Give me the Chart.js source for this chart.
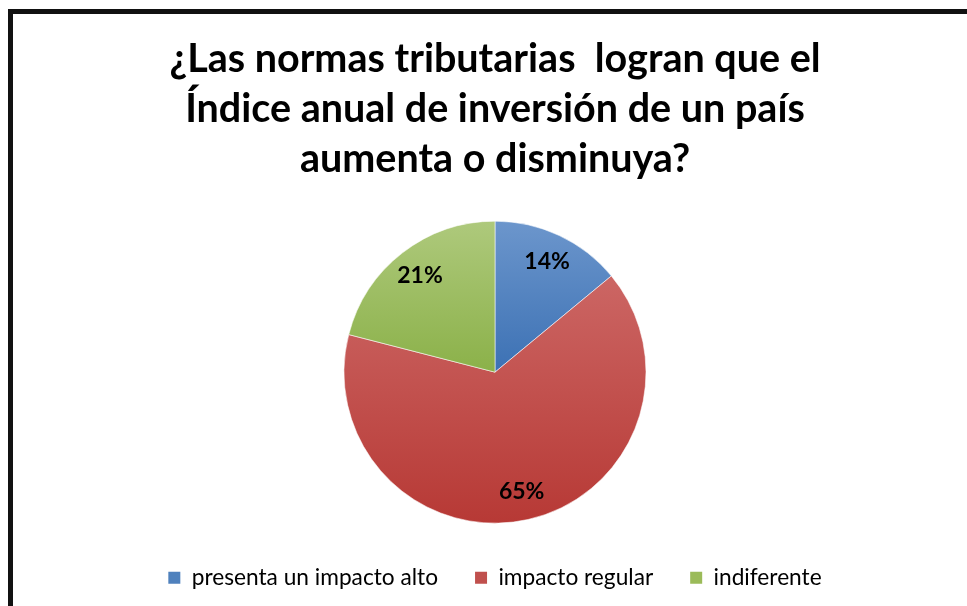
<!DOCTYPE html>
<html>
<head>
<meta charset="utf-8">
<script src="https://cdn.jsdelivr.net/npm/chart.js@4/dist/chart.umd.min.js"></script>
<style>
  html, body { margin: 0; padding: 0; background: #fff; overflow: hidden; }
  #frame { position: absolute; left: 8px; top: 9px; width: 2000px; height: 2000px; border: 5px solid #111; }
  #wrap { position: absolute; left: 0; top: 0; }
</style>
</head>
<body>
<div id="frame"></div>
<div id="wrap"><canvas id="pieChart" width="967" height="599"></canvas></div>
<script>
//
// Pie chart - normas tributarias vs indice de inversion
//

var categories = ['presenta un impacto alto', 'impacto regular', 'indiferente'];
var values = [14, 65, 21];
var valueLabels = ['14%', '65%', '21%'];
var titleLines = ['¿Las normas tributarias  logran que el', 'Índice anual de inversión de un país', 'aumenta o disminuya?'];

// light (top) and dark (bottom) tone of each slice, plus flat legend colour
var lightColors = ['#6c96cc', '#cc6664', '#aec97c'];
var darkColors = ['#3c71b4', '#b73935', '#8bb149'];
var legendColors = ['#4f81bd', '#c0504d', '#9bbb59'];

const PIE_RADIUS = 151;

//
// Vertical gradient fitted to each slice's own bounding box
//
function sliceGradient(context) {
  var chart = context.chart;
  var i = context.dataIndex;
  var area = chart.chartArea;
  if (!area || i === undefined) return legendColors[i || 0];

  var cx = (area.left + area.right) / 2;
  var cy = (area.top + area.bottom) / 2;
  var total = values.reduce((a, b) => a + b, 0);
  var before = 0;
  for (var k = 0; k < i; k++) before += values[k];
  var a0 = -Math.PI / 2 + before / total * Math.PI * 2;
  var a1 = a0 + values[i] / total * Math.PI * 2;

  var minY = cy, maxY = cy;
  for (var s = 0; s <= 60; s++) {
    var a = a0 + (a1 - a0) * s / 60;
    var y = cy + Math.sin(a) * PIE_RADIUS;
    if (y < minY) minY = y;
    if (y > maxY) maxY = y;
  }
  var g = chart.ctx.createLinearGradient(0, minY, 0, maxY);
  g.addColorStop(0, lightColors[i]);
  g.addColorStop(1, darkColors[i]);
  return g;
}

// Percent labels drawn inside the slices
var sliceLabels = {
  id: 'sliceLabels',
  afterDatasetsDraw(chart) {
    var ctx = chart.ctx;
    var meta = chart.getDatasetMeta(0);
    ctx.save();
    ctx.font = 'bold 23px Lato';
    ctx.fillStyle = '#000';
    ctx.textAlign = 'center';
    ctx.textBaseline = 'middle';
    meta.data.forEach((arc, i) => {
      var p = arc.getProps(['x', 'y', 'startAngle', 'endAngle', 'outerRadius'], true);
      var mid = (p.startAngle + p.endAngle) / 2;
      var r = p.outerRadius * 0.81;
      ctx.fillText(valueLabels[i], p.x + Math.cos(mid) * r, p.y + Math.sin(mid) * r);
    });
    ctx.restore();
  }
};

var pieChart = new Chart(document.getElementById('pieChart'), {
  type: 'pie',
  data: {
    labels: categories,
    datasets: [{
      data: values,
      backgroundColor: sliceGradient,
      borderColor: 'rgba(255,255,255,0.55)',
      borderWidth: 1,
      radius: PIE_RADIUS
    }]
  },
  options: {
    responsive: false,
    animation: false,
    layout: { padding: { left: 23, right: 0, top: 0, bottom: 0 } },
    plugins: {
      tooltip: { enabled: false },
      title: {
        display: true,
        text: titleLines,
        color: '#000',
        font: { family: 'Lato', size: 39.5, weight: 'bold', lineHeight: 1.266 },
        padding: { top: 34, bottom: 31 }
      },
      legend: {
        position: 'bottom',
        labels: {
          color: '#000',
          font: { family: 'Lato', size: 22.7 },
          boxWidth: 12,
          boxHeight: 12,
          padding: 37,
          generateLabels: function(chart) {
            return categories.map((c, i) => ({
              text: c,
              fillStyle: legendColors[i],
              strokeStyle: legendColors[i],
              lineWidth: 0,
              fontColor: '#000',
              index: i
            }));
          }
        }
      }
    }
  },
  plugins: [sliceLabels]
});
</script>
</body>
</html>
